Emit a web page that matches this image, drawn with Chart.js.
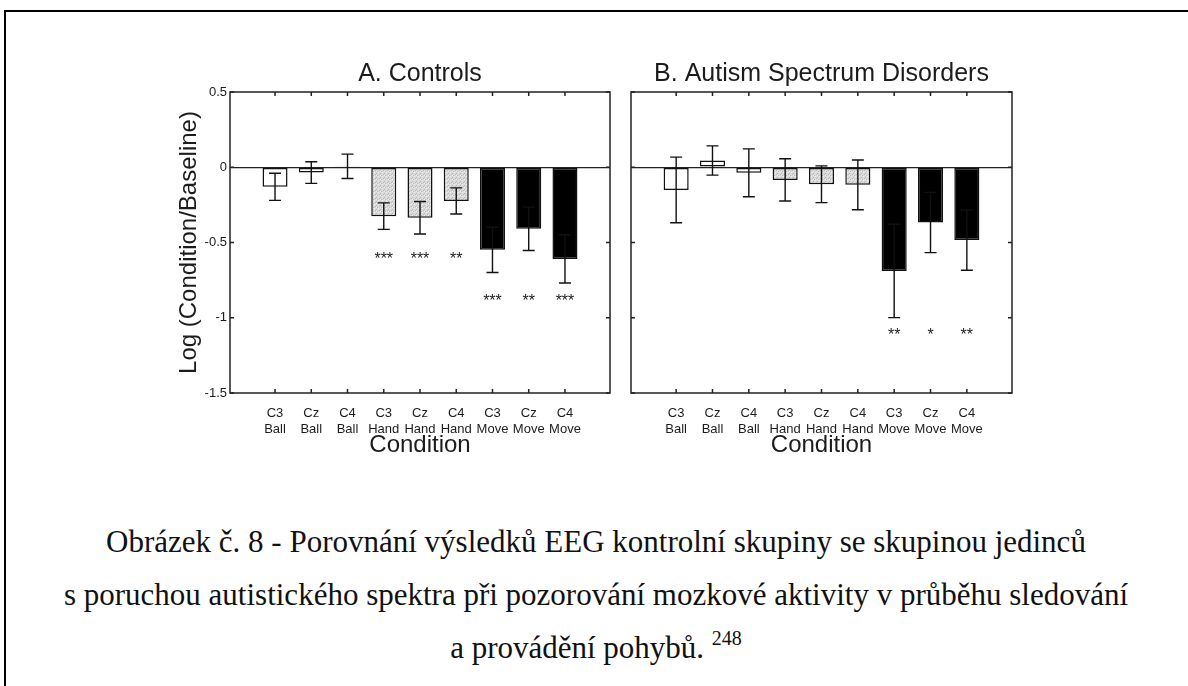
<!DOCTYPE html>
<html>
<head>
<meta charset="utf-8">
<script src="https://cdn.jsdelivr.net/npm/chart.js@4.4.0/dist/chart.umd.min.js"></script>
<style>
  body { margin: 0; background: #fff; width: 1188px; height: 686px; position: relative; overflow: hidden; }
  #frame { position: absolute; left: 4px; top: 10px; width: 1200px; height: 700px; border-left: 2px solid #000; border-top: 2px solid #000; }
  .panel { position: absolute; top: 50px; height: 410px; }
  #panelA { left: 175px; width: 445px; }
  #panelB { left: 620px; width: 400px; }
  #caption { position: absolute; left: 4px; width: 1184px; top: 515px; text-align: center;
             font-family: "Liberation Serif", "Times New Roman", serif; font-size: 31px; line-height: 53px; color: #111; }
  #caption sup { font-size: 20px; vertical-align: baseline; position: relative; top: -13px; }
</style>
</head>
<body>
<div id="frame"></div>
<div class="panel" id="panelA"><canvas id="chartA"></canvas></div>
<div class="panel" id="panelB"><canvas id="chartB"></canvas></div>
<div id="caption">Obrázek č. 8 - Porovnání výsledků EEG kontrolní skupiny se skupinou jedinců<br>s poruchou autistického spektra při pozorování mozkové aktivity v průběhu sledování<br>a provádění pohybů. <sup>248</sup></div>

<script>
const conditions = [['C3', 'Ball'], ['Cz', 'Ball'], ['C4', 'Ball'],
                    ['C3', 'Hand'], ['Cz', 'Hand'], ['C4', 'Hand'],
                    ['C3', 'Move'], ['Cz', 'Move'], ['C4', 'Move']];
const yTicks = [0.5, 0, -0.5, -1, -1.5];

// A. Controls
const controlsMean = [-0.13, -0.035, 0.006, -0.325, -0.336, -0.224, -0.549, -0.409, -0.609];
const controlsErr = [0.09, 0.072, 0.081, 0.088, 0.108, 0.087, 0.15, 0.144, 0.16];
const controlsStars = ['', '', '', '***', '***', '**', '***', '**', '***'];

// B. Autism Spectrum Disorders
const asdMean = [-0.151, 0.045, -0.037, -0.084, -0.113, -0.117, -0.689, -0.367, -0.484];
const asdErr = [0.218, 0.097, 0.159, 0.14, 0.122, 0.165, 0.31, 0.2, 0.2];
const asdStars = ['', '', '', '', '', '', '**', '*', '**'];

Chart.defaults.font.family = '"Liberation Sans", Arial, sans-serif';
Chart.defaults.color = '#1c1c1c';

function stipple() {
  const c = document.createElement('canvas');
  c.width = c.height = 4;
  const g = c.getContext('2d');
  g.fillStyle = '#dadada'; g.fillRect(0, 0, 4, 4);
  g.fillStyle = '#b9b9b9'; g.fillRect(0, 0, 1, 1); g.fillRect(2, 1, 1, 1); g.fillRect(1, 3, 1, 1);
  g.fillStyle = '#efefef'; g.fillRect(3, 2, 1, 1); g.fillRect(1, 1, 1, 1);
  return g.createPattern(c, 'repeat');
}
const gray = stipple();
const fills = conditions.map(c => c[1] === 'Ball' ? '#ffffff' : c[1] === 'Hand' ? gray : '#000000');

// error bars, significance stars and the boxed frame with inward ticks
const panelFrame = {
  id: 'panelFrame',
  afterDatasetsDraw(chart, args, opts) {
    const { ctx, chartArea: a, scales: { x, y } } = chart;
    const meta = chart.getDatasetMeta(0);
    const ds = chart.data.datasets[0];
    ctx.save();
    ctx.strokeStyle = '#111';
    ctx.lineWidth = 1.4;
    meta.data.forEach((bar, i) => {
      const v = ds.data[i].y, e = opts.err[i];
      const t = y.getPixelForValue(v + e), b = y.getPixelForValue(v - e);
      ctx.beginPath();
      ctx.moveTo(bar.x, t); ctx.lineTo(bar.x, b);
      ctx.moveTo(bar.x - 6, t); ctx.lineTo(bar.x + 6, t);
      ctx.moveTo(bar.x - 6, b); ctx.lineTo(bar.x + 6, b);
      ctx.stroke();
      const s = opts.stars[i];
      if (s) {
        ctx.fillStyle = '#1c1c1c';
        ctx.font = '16px "Liberation Sans", Arial, sans-serif';
        ctx.textAlign = 'center';
        ctx.textBaseline = 'alphabetic';
        ctx.fillText(s, bar.x, y.getPixelForValue(opts.rows[conditions[i][1]]) + 9);
      }
    });
    ctx.strokeStyle = '#222';
    ctx.lineWidth = 1.5;
    ctx.strokeRect(a.left, a.top, a.width, a.height);
    ctx.beginPath();
    yTicks.forEach(v => {
      const py = y.getPixelForValue(v);
      ctx.moveTo(a.left, py); ctx.lineTo(a.left + 4, py);
      ctx.moveTo(a.right, py); ctx.lineTo(a.right - 4, py);
    });
    conditions.forEach((c, i) => {
      const px = x.getPixelForValue(i);
      ctx.moveTo(px, a.top); ctx.lineTo(px, a.top + 4);
      ctx.moveTo(px, a.bottom); ctx.lineTo(px, a.bottom - 4);
    });
    ctx.stroke();
    ctx.restore();
  }
};

function makePanel(id, title, means, errs, stars, rows, showY, padding) {
  return new Chart(document.getElementById(id), {
    type: 'bar',
    data: {
      datasets: [{
        data: means.map((v, i) => ({ x: i, y: v })),
        backgroundColor: fills,
        borderColor: '#111',
        borderWidth: 1.5,
        borderSkipped: false,
        barPercentage: 0.69,
        categoryPercentage: 1
      }]
    },
    options: {
      responsive: true,
      maintainAspectRatio: false,
      animation: false,
      layout: { padding: padding },
      scales: {
        x: {
          type: 'linear',
          min: -0.66,
          max: 8.66,
          afterBuildTicks: s => { s.ticks = conditions.map((c, i) => ({ value: i })); },
          afterFit: s => { s.height = 67; },
          ticks: {
            autoSkip: false,
            maxRotation: 0,
            padding: 5,
            font: { size: 13 },
            callback: v => conditions[v]
          },
          grid: { display: false },
          border: { display: false },
          title: { display: true, text: 'Condition', font: { size: 24 }, padding: 0 }
        },
        y: {
          min: -1.5,
          max: 0.5,
          afterFit: s => { s.width = showY ? 55 : 0; },
          ticks: { display: showY, stepSize: 0.5, padding: 3, font: { size: 13 }, callback: v => String(v) },
          grid: {
            drawTicks: false,
            lineWidth: 1.3,
            color: c => c.tick.value === 0 ? '#222' : 'rgba(0,0,0,0)'
          },
          border: { display: false },
          title: { display: showY, text: 'Log (Condition/Baseline)', font: { size: 24 }, padding: 0 }
        }
      },
      plugins: {
        legend: { display: false },
        tooltip: { enabled: false },
        title: {
          display: true,
          text: title,
          fullSize: false,
          font: { size: 25, weight: 'normal' },
          color: '#1c1c1c',
          padding: { top: 9, bottom: 3 }
        },
        panelFrame: { err: errs, stars: stars, rows: rows }
      }
    },
    plugins: [panelFrame]
  });
}

makePanel('chartA', 'A. Controls', controlsMean, controlsErr, controlsStars,
  { Hand: -0.58, Move: -0.865 }, true, { left: 0, right: 10, top: 0, bottom: 0 });
makePanel('chartB', 'B. Autism Spectrum Disorders', asdMean, asdErr, asdStars,
  { Move: -1.09 }, false, { left: 11, right: 8, top: 0, bottom: 0 });
</script>
</body>
</html>
